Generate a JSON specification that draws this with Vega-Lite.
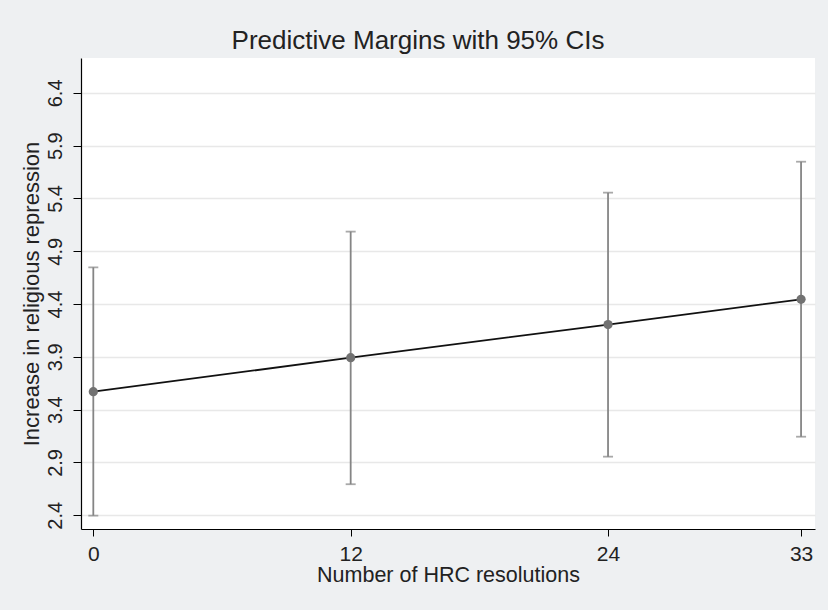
{
  "$schema": "https://vega.github.io/schema/vega-lite/v6.json",
  "autosize": "none",
  "width": 734,
  "height": 471,
  "padding": {"left": 81, "top": 58, "right": 13, "bottom": 81},
  "background": "#EEF0F2",
  "config": {
    "view": {"fill": "white", "stroke": null},
    "font": "Liberation Sans"
  },
  "title": {
    "text": "Predictive Margins with 95% CIs",
    "fontSize": 26,
    "fontWeight": "normal",
    "color": "#222222",
    "font": "Liberation Sans",
    "offset": 4,
    "dx": -30
  },
  "data": {
    "values": [
      {"hrc": 0, "margin": 3.570, "lo": 2.396, "hi": 4.748},
      {"hrc": 12, "margin": 3.892, "lo": 2.694, "hi": 5.086},
      {"hrc": 24, "margin": 4.206, "lo": 2.955, "hi": 5.455},
      {"hrc": 33, "margin": 4.445, "lo": 3.144, "hi": 5.748}
    ]
  },
  "encoding": {
    "x": {
      "field": "hrc",
      "type": "quantitative",
      "scale": {"domain": [-0.574, 33.65], "nice": false, "zero": false},
      "axis": {
        "values": [0, 12, 24, 33],
        "title": "Number of HRC resolutions",
        "grid": false,
        "domainColor": "#000000",
        "domainWidth": 1.2,
        "tickColor": "#000000",
        "tickSize": 7,
        "labelFontSize": 21,
        "labelColor": "#222222",
        "labelPadding": 7,
        "titleFontSize": 21.5,
        "titleFontWeight": "normal",
        "titleColor": "#222222",
        "titlePadding": 0
      }
    }
  },
  "layer": [
    {
      "mark": {"type": "rule", "color": "#858585", "strokeWidth": 1.8},
      "encoding": {
        "y": {
          "field": "lo",
          "type": "quantitative",
          "scale": {"domain": [2.27, 6.73], "nice": false, "zero": false},
          "axis": {
            "values": [2.4, 2.9, 3.4, 3.9, 4.4, 4.9, 5.4, 5.9, 6.4],
            "format": ".1f",
            "title": "Increase in religious repression",
            "grid": true,
            "gridColor": "#E8E8E8",
            "gridWidth": 1.5,
            "domainColor": "#000000",
            "domainWidth": 1.2,
            "tickColor": "#000000",
            "tickSize": 8,
            "labelAngle": -90,
            "labelAlign": "center",
            "labelBaseline": "bottom",
            "labelFontSize": 20,
            "labelColor": "#222222",
            "labelPadding": 8,
            "titleFontSize": 22,
            "titleFontWeight": "normal",
            "titleColor": "#222222",
            "titlePadding": 2
          }
        },
        "y2": {"field": "hi"}
      }
    },
    {
      "mark": {"type": "tick", "orient": "horizontal", "color": "#858585", "size": 10, "thickness": 1.8},
      "encoding": {"y": {"field": "lo", "type": "quantitative"}}
    },
    {
      "mark": {"type": "tick", "orient": "horizontal", "color": "#858585", "size": 10, "thickness": 1.8},
      "encoding": {"y": {"field": "hi", "type": "quantitative"}}
    },
    {
      "mark": {"type": "line", "color": "#111111", "strokeWidth": 1.8},
      "encoding": {"y": {"field": "margin", "type": "quantitative"}}
    },
    {
      "mark": {"type": "point", "filled": true, "opacity": 1, "color": "#727272", "size": 85},
      "encoding": {"y": {"field": "margin", "type": "quantitative"}}
    }
  ]
}
